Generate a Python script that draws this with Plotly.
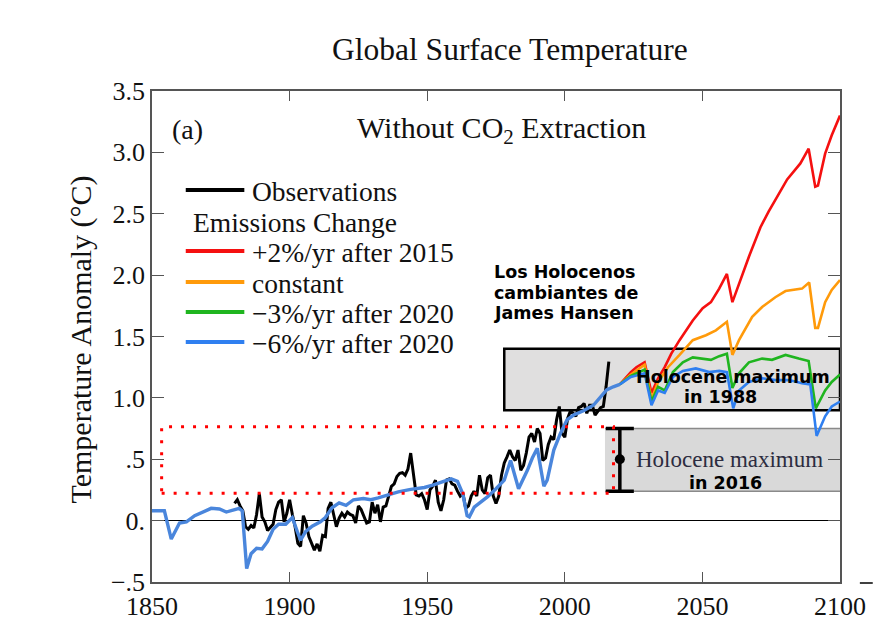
import plotly.graph_objects as go

# ---------------- data ----------------
obs_years = list(range(1880, 2017))
obs_vals = [
    0.14, 0.17, 0.12, 0.08, -0.05, -0.07, -0.04, -0.06, 0.05, 0.22,
    0.03, -0.01, -0.08, -0.05, -0.03, 0.09, 0.15, 0.17, -0.01, 0.06,
    0.17, 0.05, -0.05, -0.185, -0.21, 0.04, -0.02, -0.13, -0.185, -0.24,
    -0.19, -0.25, -0.12, -0.13, 0.10, 0.15, 0.05, -0.05, 0.02, 0.06,
    0.03, 0.07, 0.05, 0.04, -0.02, 0.12, 0.09, 0.04, -0.02, -0.01,
    0.15, 0.06, 0.13, -0.01, 0.11, 0.12, 0.20, 0.28, 0.30, 0.36,
    0.385, 0.39, 0.37, 0.42, 0.55, 0.37, 0.21, 0.20, 0.22, 0.17,
    0.09, 0.25, 0.28, 0.33, 0.15, 0.08, 0.17, 0.33, 0.34, 0.30,
    0.29, 0.24, 0.20, 0.22, 0.10, 0.12, 0.20, 0.24, 0.20, 0.37,
    0.25, 0.22, 0.35, 0.37, 0.20, 0.14, 0.20, 0.37, 0.47, 0.52,
    0.575, 0.52, 0.49, 0.575, 0.41, 0.45, 0.55, 0.68, 0.71, 0.64,
    0.75, 0.71, 0.49, 0.51, 0.62, 0.68, 0.66, 0.82, 0.93, 0.71,
    0.68, 0.83, 0.89, 0.875, 0.85, 0.92, 0.93, 0.955, 0.875, 0.94,
    0.94, 0.86, 0.89, 0.92, 0.93, 1.09, 1.295,
]

model_hist_years = [1850, 1854.5, 1857, 1860, 1862.5, 1865.5, 1871.5, 1874.5, 1877, 1880,
                    1881.7, 1882.8, 1884.4, 1886, 1888, 1890, 1892, 1894, 1896, 1898.6, 1901,
                    1902.8, 1904, 1905.8, 1908.2, 1911.2, 1913, 1915.4, 1918, 1920.5, 1923.2,
                    1926.8, 1929.5, 1932.2, 1935.5, 1939.5, 1944, 1949, 1952, 1955, 1958.7,
                    1961, 1962.9, 1964.5, 1965.3, 1967.1, 1969.5, 1972, 1975, 1978, 1980.3,
                    1981.6, 1983.2, 1986.4, 1988.2, 1990, 1992.4, 1993.6, 1996, 1998.4, 2000.8,
                    2003.2, 2006.8, 2010.4, 2012.8, 2015.2, 2017.6]
model_hist_vals = [0.08, 0.08, -0.15, -0.02, -0.01, 0.04, 0.10, 0.095, 0.07, 0.085,
                   0.10, 0.08, -0.39, -0.27, -0.225, -0.23, -0.17, -0.07, -0.03, -0.03, 0.025,
                   -0.09, -0.16, -0.09, -0.045, -0.01, 0.025, 0.105, 0.145, 0.125, 0.17,
                   0.18, 0.17, 0.185, 0.21, 0.235, 0.255, 0.27, 0.29, 0.31, 0.34,
                   0.32, 0.22, 0.04, 0.03, 0.11, 0.15, 0.195, 0.26, 0.33, 0.49,
                   0.385, 0.26, 0.41, 0.51, 0.59, 0.28, 0.33, 0.575, 0.71, 0.82,
                   0.86, 0.895, 0.94, 1.0, 1.065, 1.09]

red_years = [2020, 2022, 2024, 2026, 2029, 2031.5, 2033.9, 2036.3, 2038.7, 2041.7, 2046.5,
             2050.1, 2053.1, 2056.1, 2058.9, 2060.9, 2063.3, 2066.9, 2071.1, 2074.1, 2077.2,
             2080.8, 2085.6, 2088.6, 2091, 2092, 2094.6, 2097, 2100]
red_vals = [1.11, 1.16, 1.21, 1.25, 1.29, 1.04, 1.16, 1.25, 1.36, 1.47, 1.63,
            1.73, 1.78, 1.89, 2.01, 1.78, 1.93, 2.15, 2.39, 2.52, 2.64,
            2.78, 2.91, 3.03, 2.72, 2.73, 2.99, 3.14, 3.30]

orange_years = [2020, 2024, 2029, 2031.5, 2033.9, 2037.5, 2041.7, 2046.5, 2051.3, 2054.9,
                2058.9, 2060.9, 2063.3, 2068.1, 2071.7, 2076.5, 2080.2, 2086.2, 2088.8,
                2091, 2092, 2094.6, 2097, 2100]
orange_vals = [1.11, 1.19, 1.27, 0.99, 1.13, 1.25, 1.35, 1.47, 1.51, 1.55,
               1.62, 1.35, 1.47, 1.66, 1.74, 1.82, 1.87, 1.89, 1.94,
               1.57, 1.57, 1.78, 1.88, 1.96]

green_years = [2020, 2024, 2029, 2031.5, 2033.9, 2036.3, 2039.3, 2042.9, 2046.5, 2050.1,
               2053.1, 2056.1, 2058.9, 2060.9, 2063.3, 2066.9, 2071.7, 2075.3, 2080.2,
               2085, 2088.6, 2091.2, 2094.6, 2097, 2100]
green_vals = [1.11, 1.18, 1.23, 0.97, 1.09, 1.06, 1.21, 1.29, 1.33, 1.32,
              1.31, 1.34, 1.36, 1.08, 1.20, 1.29, 1.32, 1.31, 1.35,
              1.32, 1.30, 0.915, 1.06, 1.13, 1.19]

blue_years = [2020, 2024, 2029, 2031.5, 2033.9, 2036.3, 2039.3, 2042.9, 2047.6, 2052.5,
              2056.1, 2058.9, 2061.2, 2063.3, 2066.9, 2071.7, 2076.5, 2081.4, 2086.2,
              2089.2, 2091.5, 2094.6, 2097, 2100]
blue_vals = [1.11, 1.17, 1.20, 0.94, 1.06, 1.04, 1.17, 1.22, 1.24, 1.21,
             1.22, 1.21, 0.915, 1.06, 1.13, 1.16, 1.145, 1.145, 1.12,
             1.11, 0.69, 0.85, 0.93, 0.97]

legend_labels = ["Observations", "+2%/yr after 2015", "constant",
                 "\u22123%/yr after 2020", "\u22126%/yr after 2020"]

y_tickvals = [-0.5, 0, 0.5, 1.0, 1.5, 2.0, 2.5, 3.0, 3.5]
y_ticktext = ["\u2212.5", "0.", ".5", "1.0", "1.5", "2.0", "2.5", "3.0", "3.5"]
x_tickvals = [1850, 1900, 1950, 2000, 2050, 2100]

# Holocene ranges
box1988 = dict(x0=1978, x1=2100, y0=0.9, y1=1.4)
box2016 = dict(x0=2014.6, x1=2100, y0=0.24, y1=0.75)
red_range = dict(x0=1853.5, x1=2017.7, y0=0.222, y1=0.765)
holo2016_center = [2020]
holo2016_mid = [0.5]
holo2016_up = [0.25]
holo2016_down = [0.26]

# ---------------- style ----------------
W, H = 878, 634
ML, MR, MT, MB = 152, 33, 91, 52
PW, PH = W - ML - MR, H - MT - MB
SERIF = "Liberation Serif"
SANS = "DejaVu Sans"
RED, ORANGE, GREEN, BLUE = "#f51010", "#ff9a0a", "#1fb51f", "#2f7ff0"
BLUE_HIST = "#4a86dc"


def px_x(p):
    return (p - ML) / PW


def px_y(p):
    return (H - MB - p) / PH


fig = go.Figure()

fig.add_trace(go.Scatter(x=obs_years, y=obs_vals, mode="lines",
                         line=dict(color="#000000", width=3), showlegend=False))
for yrs, vals, col in [(red_years, red_vals, RED), (orange_years, orange_vals, ORANGE),
                       (green_years, green_vals, GREEN)]:
    fig.add_trace(go.Scatter(x=yrs, y=vals, mode="lines",
                             line=dict(color=col, width=2.6), showlegend=False))
fig.add_trace(go.Scatter(x=model_hist_years + blue_years[:1], y=model_hist_vals + blue_vals[:1],
                         mode="lines", line=dict(color=BLUE_HIST, width=3.4), showlegend=False))
fig.add_trace(go.Scatter(x=blue_years, y=blue_vals, mode="lines",
                         line=dict(color=BLUE, width=2.6), showlegend=False))

# error bar of Holocene maximum 2016
fig.add_trace(go.Scatter(x=holo2016_center, y=holo2016_mid, mode="markers",
                         marker=dict(color="black", size=10),
                         error_y=dict(type="data", symmetric=False, array=holo2016_up,
                                      arrayminus=holo2016_down, color="black",
                                      thickness=3.5, width=14),
                         showlegend=False))

shapes = []
# boxes
shapes.append(dict(type="rect", xref="x", yref="y", layer="below",
                   fillcolor="#e0dfdf", line=dict(color="black", width=2.5), **box1988))
shapes.append(dict(type="rect", xref="x", yref="y", layer="below",
                   fillcolor="#d9d9d9", line=dict(width=0), **box2016))
for yv in (box2016["y0"], box2016["y1"]):
    shapes.append(dict(type="line", xref="x", yref="y", layer="below",
                       x0=box2016["x0"], x1=box2016["x1"], y0=yv, y1=yv,
                       line=dict(color="#8a8a8a", width=1.5)))
shapes.append(dict(type="rect", xref="x", yref="y", layer="above",
                   line=dict(color="#ff0000", width=3, dash="3px,9px"), **red_range))

# manual legend
leg_rows = [190, 251, 282, 312, 342]
leg_cols = ["#000000", RED, ORANGE, GREEN, BLUE]
annotations = []
for row, col, lab in zip(leg_rows, leg_cols, legend_labels):
    shapes.append(dict(type="line", xref="paper", yref="paper",
                       x0=px_x(186), x1=px_x(245), y0=px_y(row), y1=px_y(row),
                       line=dict(color=col, width=4)))
    annotations.append(dict(xref="paper", yref="paper", x=px_x(251), y=px_y(row + 1),
                            xanchor="left", yanchor="middle", text=lab, showarrow=False,
                            font=dict(family=SERIF, size=27.5, color="#111")))
annotations.append(dict(xref="paper", yref="paper", x=px_x(191), y=px_y(222),
                        xanchor="left", yanchor="middle", text="Emissions Change",
                        showarrow=False, font=dict(family=SERIF, size=27.5, color="#111")))

# little stray tick at bottom right
shapes.append(dict(type="line", xref="paper", yref="paper", x0=px_x(865), x1=px_x(878),
                    y0=px_y(583), y1=px_y(583), line=dict(color="black", width=1.5)))

# titles
annotations.append(dict(xref="paper", yref="paper", x=px_x(513), y=px_y(50),
                        xanchor="center", yanchor="middle", text="Global Surface Temperature",
                        showarrow=False, font=dict(family=SERIF, size=31.5, color="#111")))
annotations.append(dict(xref="paper", yref="paper", x=px_x(80), y=px_y(340),
                        xanchor="center", yanchor="middle", textangle=-90,
                        text="Temperature Anomaly (\u00b0C)",
                        showarrow=False, font=dict(family=SERIF, size=30, color="#111")))
annotations.append(dict(xref="paper", yref="paper", x=px_x(170), y=px_y(129),
                        xanchor="left", yanchor="middle", text="(a)",
                        showarrow=False, font=dict(family=SERIF, size=28, color="#111")))
annotations.append(dict(xref="paper", yref="paper", x=px_x(504), y=px_y(130),
                        xanchor="center", yanchor="middle",
                        text="Without CO<sub>2</sub> Extraction",
                        showarrow=False, font=dict(family=SERIF, size=30, color="#111")))

# in-plot texts
for txt, yv in [("Los Holocenos", 2.023), ("cambiantes de", 1.852), ("James Hansen", 1.689)]:
    annotations.append(dict(xref="x", yref="y", x=1973.7, y=yv, xanchor="left",
                            yanchor="middle", text="<b>" + txt + "</b>", showarrow=False,
                            font=dict(family=SANS, size=17.5, color="black")))
annotations.append(dict(xref="x", yref="y", x=2061.2, y=1.172, xanchor="center",
                        yanchor="middle", text="<b>Holocene maximum</b>", showarrow=False,
                        font=dict(family=SANS, size=17.5, color="black")))
annotations.append(dict(xref="x", yref="y", x=2056.7, y=1.004, xanchor="center",
                        yanchor="middle", text="<b>in 1988</b>", showarrow=False,
                        font=dict(family=SANS, size=17.5, color="black")))
annotations.append(dict(xref="x", yref="y", x=2059.7, y=0.5, xanchor="center",
                        yanchor="middle", text="Holocene maximum", showarrow=False,
                        font=dict(family=SERIF, size=23, color="#2c2c40")))
annotations.append(dict(xref="x", yref="y", x=2058.5, y=0.309, xanchor="center",
                        yanchor="middle", text="<b>in 2016</b>", showarrow=False,
                        font=dict(family=SANS, size=17.5, color="black")))

fig.update_layout(
    width=W, height=H, autosize=False,
    margin=dict(l=ML, r=MR, t=MT, b=MB),
    paper_bgcolor="white", plot_bgcolor="white",
    shapes=shapes, annotations=annotations, showlegend=False,
    xaxis=dict(range=[1850, 2100], tickvals=x_tickvals, ticks="inside", ticklen=10,
               tickwidth=1.2, tickcolor="#555", showline=True, linecolor="#555",
               linewidth=1.5, mirror="ticks", showgrid=False, zeroline=False,
               tickfont=dict(family=SERIF, size=26, color="#111")),
    yaxis=dict(range=[-0.5, 3.5], tickvals=y_tickvals, ticktext=y_ticktext,
               ticks="inside", ticklen=12, tickwidth=1.2, tickcolor="#555",
               showline=True, linecolor="#555", linewidth=1.5, mirror="ticks",
               showgrid=False, zeroline=True, zerolinecolor="black", zerolinewidth=1,
               tickfont=dict(family=SERIF, size=26, color="#111")),
)

fig.write_html("out.html", config={"displayModeBar": False},
               post_script="document.body.style.margin='0';document.body.style.overflow='hidden';")
